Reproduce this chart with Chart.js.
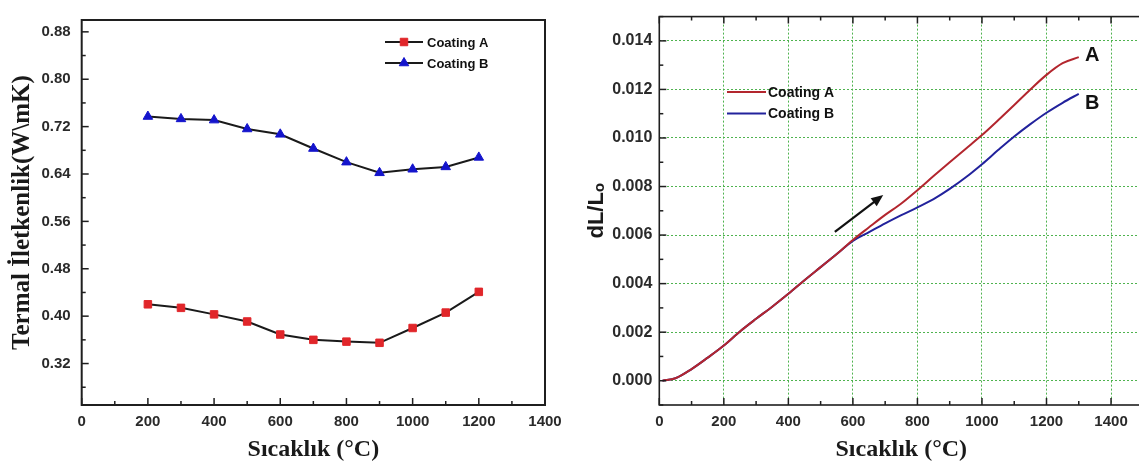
<!DOCTYPE html>
<html>
<head>
<meta charset="utf-8">
<script src="https://cdn.jsdelivr.net/npm/chart.js@4.4.1/dist/chart.umd.min.js"></script>
<style>
  html, body { margin: 0; padding: 0; background: #fff; overflow: hidden; }
  #conductivity { position: absolute; left: 0; top: 0; }
  #expansion { position: absolute; left: 580px; top: 0; }
</style>
</head>
<body>
<canvas id="conductivity" width="570" height="468"></canvas>
<canvas id="expansion" width="580" height="468"></canvas>
<script>
// thermal conductivity, W/mK
const condTemps = [200, 300, 400, 500, 600, 700, 800, 900, 1000, 1100, 1200];
const condA = [0.420, 0.414, 0.403, 0.391, 0.369, 0.360, 0.357, 0.355, 0.380, 0.406, 0.441];
const condB = [0.737, 0.733, 0.731, 0.716, 0.707, 0.683, 0.660, 0.642, 0.648, 0.652, 0.668];
const condXLabels = [0, 200, 400, 600, 800, 1000, 1200, 1400];
const condYLabels = [0.32, 0.40, 0.48, 0.56, 0.64, 0.72, 0.80, 0.88];

// dilatometer curves dL/Lo
const expTemps = [10, 50, 100, 150, 200, 250, 300, 350, 400, 450, 500, 550, 600, 650,
  700, 750, 800, 850, 900, 950, 1000, 1050, 1100, 1150, 1200, 1250, 1300];
const expA = [0, 0.0001, 0.00048, 0.00095, 0.00145, 0.00203, 0.00255, 0.00305, 0.00358,
  0.00414, 0.00468, 0.00522, 0.0058, 0.00632, 0.00683, 0.0073, 0.00785, 0.00843, 0.009,
  0.00956, 0.01012, 0.01073, 0.01136, 0.012, 0.0126, 0.01308, 0.01333];
const expB = [0, 0.0001, 0.00048, 0.00095, 0.00145, 0.00203, 0.00255, 0.00305, 0.00358,
  0.00414, 0.00468, 0.00522, 0.00576, 0.00612, 0.00648, 0.00682, 0.00714, 0.00748, 0.0079,
  0.00838, 0.00892, 0.0095, 0.01006, 0.01057, 0.01104, 0.01145, 0.01182];
const expXLabels = [0, 200, 400, 600, 800, 1000, 1200, 1400];
const expYLabels = [0, 0.002, 0.004, 0.006, 0.008, 0.01, 0.012, 0.014];

Chart.defaults.font.family = "'Liberation Sans', Arial, sans-serif";
Chart.defaults.color = '#2a2a2a';

const near = (list, v) => list.some(l => Math.abs(l - v) < 1e-9);
const points = (xs, ys) => xs.map((x, i) => ({ x: x, y: ys[i] }));

// evenly spaced ticks between min and max
function stepTicks(scale, step) {
  const out = [];
  const first = Math.ceil(scale.min / step - 1e-9);
  const last = Math.floor(scale.max / step + 1e-9);
  for (let k = first; k <= last; k++) out.push({ value: +(k * step).toFixed(6) });
  scale.ticks = out;
}

// box around the plot with inward tick marks
const framePlugin = {
  id: 'frame',
  afterDraw(chart, args, o) {
    const { ctx, chartArea: a, scales } = chart;
    ctx.save();
    ctx.strokeStyle = o.color;
    ctx.lineWidth = o.tickWidth;
    scales.x.ticks.forEach(t => {
      const px = scales.x.getPixelForValue(t.value);
      const len = near(o.xMajor, t.value) ? 7 : 4;
      ctx.beginPath();
      ctx.moveTo(px, a.bottom); ctx.lineTo(px, a.bottom - len);
      if (o.top) { ctx.moveTo(px, a.top); ctx.lineTo(px, a.top + len); }
      ctx.stroke();
    });
    scales.y.ticks.forEach(t => {
      const py = scales.y.getPixelForValue(t.value);
      const len = near(o.yMajor, t.value) ? 7 : 4;
      ctx.beginPath();
      ctx.moveTo(a.left, py); ctx.lineTo(a.left + len, py);
      ctx.stroke();
    });
    ctx.lineWidth = o.width;
    ctx.strokeRect(a.left, a.top, a.right - a.left, a.bottom - a.top);
    ctx.restore();
  }
};

// legend box drawn inside the plot
const insetLegend = {
  id: 'insetLegend',
  afterDatasetsDraw(chart, args, o) {
    const ctx = chart.ctx;
    ctx.save();
    ctx.font = o.font;
    ctx.textBaseline = 'middle';
    chart.data.datasets.forEach((ds, i) => {
      const y = o.y + i * o.rowGap;
      ctx.strokeStyle = ds.borderColor;
      ctx.lineWidth = 2;
      ctx.beginPath();
      ctx.moveTo(o.x, y); ctx.lineTo(o.x + o.lineLength, y);
      ctx.stroke();
      if (ds.pointRadius > 0) {
        ctx.fillStyle = ds.pointBackgroundColor;
        ctx.strokeStyle = ds.pointBackgroundColor;
        ctx.lineWidth = 1;
        Chart.helpers.drawPoint(ctx, {
          pointStyle: ds.pointStyle, radius: ds.pointRadius, rotation: 0, borderWidth: 1
        }, o.x + o.lineLength / 2, y);
      }
      ctx.fillStyle = '#111';
      ctx.fillText(ds.label, o.x + o.lineLength + o.gap, y + 1);
    });
    ctx.restore();
  }
};

// heating-direction arrow and curve end labels
const expNotes = {
  id: 'expNotes',
  afterDatasetsDraw(chart, args, o) {
    const { ctx, scales: { x, y } } = chart;
    ctx.save();
    const x0 = x.getPixelForValue(o.arrow[0]), y0 = y.getPixelForValue(o.arrow[1]);
    const x1 = x.getPixelForValue(o.arrow[2]), y1 = y.getPixelForValue(o.arrow[3]);
    const ang = Math.atan2(y1 - y0, x1 - x0);
    const c = Math.cos(ang), s = Math.sin(ang);
    ctx.strokeStyle = '#111';
    ctx.fillStyle = '#111';
    ctx.lineWidth = 2.2;
    ctx.beginPath();
    ctx.moveTo(x0, y0);
    ctx.lineTo(x1 - 8 * c, y1 - 8 * s);
    ctx.stroke();
    ctx.beginPath();
    ctx.moveTo(x1, y1);
    ctx.lineTo(x1 - 12 * c + 5 * s, y1 - 12 * s - 5 * c);
    ctx.lineTo(x1 - 12 * c - 5 * s, y1 - 12 * s + 5 * c);
    ctx.closePath();
    ctx.fill();
    ctx.font = "bold 20px 'Liberation Sans', Arial, sans-serif";
    ctx.textAlign = 'center';
    ctx.textBaseline = 'middle';
    o.tags.forEach(t => ctx.fillText(t.text, x.getPixelForValue(t.x), y.getPixelForValue(t.y)));
    ctx.restore();
  }
};

const tickFont = { size: 15, weight: 'bold' };
const serifTitle = { family: "'Liberation Serif', 'Times New Roman', serif", size: 24, weight: 'bold' };

new Chart(document.getElementById('conductivity'), {
  type: 'line',
  data: {
    datasets: [
      {
        label: 'Coating A',
        data: points(condTemps, condA),
        borderColor: '#1a1a1a',
        borderWidth: 2,
        pointStyle: 'rect',
        pointRadius: 5.3,
        pointBackgroundColor: '#e1262a',
        pointBorderColor: '#e1262a',
        pointBorderWidth: 1
      },
      {
        label: 'Coating B',
        data: points(condTemps, condB),
        borderColor: '#1a1a1a',
        borderWidth: 2,
        pointStyle: 'triangle',
        pointRadius: 5.5,
        pointBackgroundColor: '#1414cc',
        pointBorderColor: '#1414cc',
        pointBorderWidth: 1
      }
    ]
  },
  options: {
    responsive: false,
    animation: false,
    layout: { padding: { top: 6.7, right: 25, left: 0, bottom: 0 } },
    scales: {
      x: {
        type: 'linear',
        min: 0,
        max: 1400,
        afterBuildTicks: s => stepTicks(s, 100),
        afterFit: s => { s.height = 63; },
        grid: { display: false, drawTicks: false },
        border: { display: false },
        ticks: {
          autoSkip: false,
          maxRotation: 0,
          padding: 8,
          font: tickFont,
          callback: v => near(condXLabels, v) ? String(v) : ''
        },
        title: { display: true, text: 'Sıcaklık (°C)', font: serifTitle, color: '#1a1a1a', padding: { top: 0, bottom: 4 } }
      },
      y: {
        min: 0.25,
        max: 0.90,
        afterBuildTicks: s => stepTicks(s, 0.04),
        afterFit: s => { s.width = 81.7; },
        grid: { display: false, drawTicks: false },
        border: { display: false },
        ticks: {
          autoSkip: false,
          padding: 11,
          font: tickFont,
          callback: v => near(condYLabels, v) ? v.toFixed(2) : ''
        },
        title: { display: true, text: 'Termal İletkenlik(W\\mK)', font: { ...serifTitle, size: 25 }, color: '#1a1a1a', padding: { top: 8, bottom: 0 } }
      }
    },
    plugins: {
      legend: { display: false },
      tooltip: { enabled: false },
      frame: { color: '#1f1f1f', width: 2, tickWidth: 1.5, xMajor: condXLabels, yMajor: condYLabels, top: false },
      insetLegend: { x: 385, y: 42, rowGap: 21, lineLength: 38, gap: 4, font: "bold 13px 'Liberation Sans', Arial, sans-serif" }
    }
  },
  plugins: [framePlugin, insetLegend]
});

const gridGreen = 'rgba(70, 175, 70, 0.95)';

new Chart(document.getElementById('expansion'), {
  type: 'line',
  data: {
    datasets: [
      {
        label: 'Coating A',
        data: points(expTemps, expA),
        borderColor: '#b3262e',
        borderWidth: 2,
        pointRadius: 0,
        cubicInterpolationMode: 'monotone'
      },
      {
        label: 'Coating B',
        data: points(expTemps, expB),
        borderColor: '#22229c',
        borderWidth: 2,
        pointRadius: 0,
        cubicInterpolationMode: 'monotone'
      }
    ]
  },
  options: {
    responsive: false,
    animation: false,
    layout: { padding: { top: 9.3, right: 16.7, left: 0, bottom: 0 } },
    scales: {
      x: {
        type: 'linear',
        min: 0,
        max: 1500,
        afterBuildTicks: s => stepTicks(s, 100),
        afterFit: s => { s.height = 63; },
        grid: {
          drawTicks: false,
          lineWidth: 1,
          color: c => (c.tick && c.tick.value > 0 && near(expXLabels, c.tick.value)) ? gridGreen : 'rgba(0,0,0,0)'
        },
        border: { display: false, dash: [2, 2] },
        ticks: {
          autoSkip: false,
          maxRotation: 0,
          padding: 8,
          font: tickFont,
          callback: v => near(expXLabels, v) ? String(v) : ''
        },
        title: { display: true, text: 'Sıcaklık (°C)', font: serifTitle, color: '#1a1a1a', padding: { top: 0, bottom: 4 } }
      },
      y: {
        min: -0.001,
        max: 0.015,
        afterBuildTicks: s => stepTicks(s, 0.001),
        afterFit: s => { s.width = 79.3; },
        grid: {
          drawTicks: false,
          lineWidth: 1,
          color: c => (c.tick && near(expYLabels, c.tick.value)) ? gridGreen : 'rgba(0,0,0,0)'
        },
        border: { display: false, dash: [2, 2] },
        ticks: {
          autoSkip: false,
          padding: 7,
          font: { size: 16, weight: 'bold' },
          callback: v => near(expYLabels, v) ? v.toFixed(3) : ''
        },
        title: { display: true, text: 'dL/Lₒ', font: { size: 22, weight: 'bold' }, color: '#1a1a1a', padding: { top: 4, bottom: 0 } }
      }
    },
    plugins: {
      legend: { display: false },
      tooltip: { enabled: false },
      frame: { color: '#1f1f1f', width: 1.6, tickWidth: 1.5, xMajor: expXLabels, yMajor: expYLabels, top: true },
      insetLegend: { x: 147, y: 92, rowGap: 21.6, lineLength: 39, gap: 2, font: "bold 14px 'Liberation Sans', Arial, sans-serif" },
      expNotes: {
        arrow: [544, 0.00613, 694, 0.00765],
        tags: [{ text: 'A', x: 1342, y: 0.01339 }, { text: 'B', x: 1342, y: 0.01144 }]
      }
    }
  },
  plugins: [framePlugin, insetLegend, expNotes]
});
</script>
</body>
</html>
